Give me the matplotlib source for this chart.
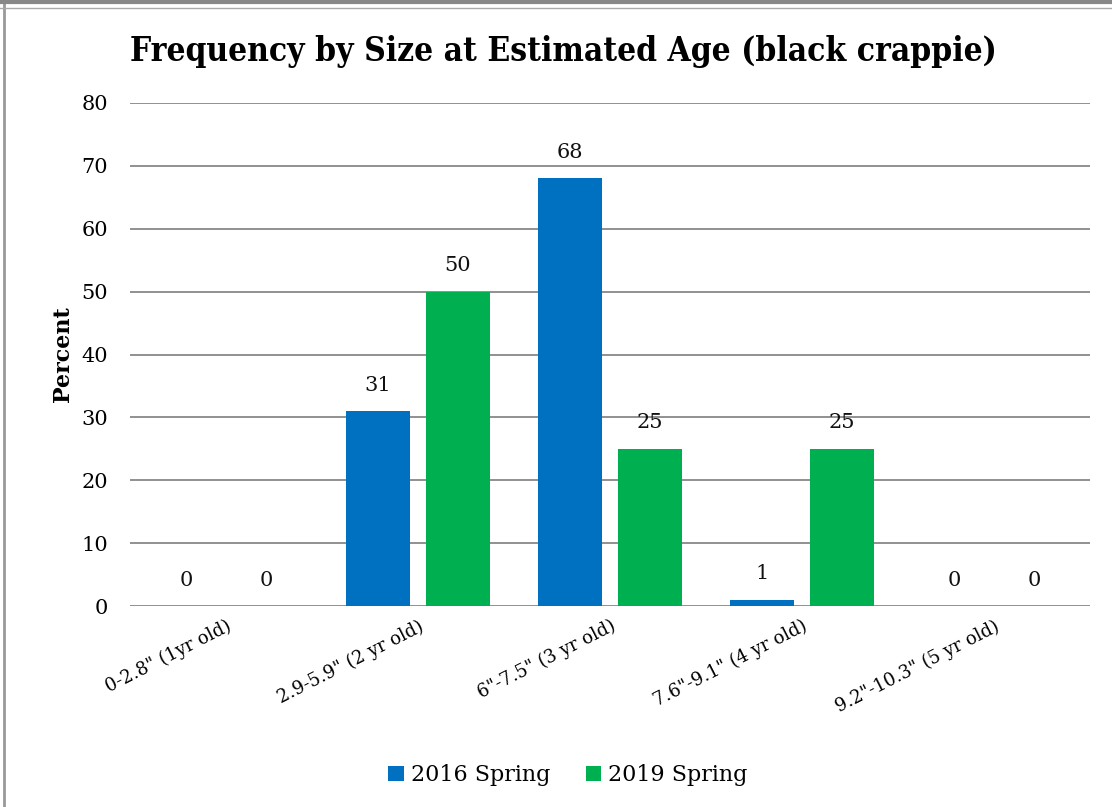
import matplotlib.pyplot as plt
from matplotlib.lines import Line2D
import numpy as np

categories = ['0-2.8" (1yr old)', '2.9-5.9" (2 yr old)', '6"-7.5" (3 yr old)',
              '7.6"-9.1" (4 yr old)', '9.2"-10.3" (5 yr old)']
spring_2016 = [0, 31, 68, 1, 0]
spring_2019 = [0, 50, 25, 25, 0]
series_names = ['2016 Spring', '2019 Spring']
colors = ['#0070C0', '#00B050']

plt.rcParams['font.family'] = ['DejaVu Serif']

fig = plt.figure(figsize=(11.12, 8.07), dpi=100)
ax = fig.add_axes([130 / 1112, 1 - 606 / 807, 960 / 1112, 503 / 807])

x = np.arange(len(categories))
w = 0.333
off = 0.208
for vals, name, c, sgn in zip([spring_2016, spring_2019], series_names, colors, [-1, 1]):
    bars = ax.bar(x + sgn * off, vals, width=w, color=c, label=name, zorder=3)
    for b, v in zip(bars, vals):
        ax.text(b.get_x() + b.get_width() / 2, v + 2.6, str(v), ha='center', va='bottom',
                fontsize=15, color='#111111')

ax.set_xlim(-0.5, len(categories) - 0.5)
ax.set_ylim(0, 80)
ax.set_yticks(range(0, 81, 10))
ax.yaxis.grid(True, color='#888888', linewidth=1.3, zorder=0)
for s in ax.spines.values():
    s.set_visible(False)
ax.tick_params(axis='y', length=0, pad=16, labelsize=15)
ax.tick_params(axis='x', length=0, pad=8, labelsize=13)
ax.set_xticks(x)
ax.set_xticklabels(categories, rotation=27, ha='right', rotation_mode='anchor')
ax.set_ylabel('Percent', fontsize=16, fontweight='bold', labelpad=5)

fig.text(563 / 1112, 1 - 52 / 807, 'Frequency by Size at Estimated Age (black crappie)',
         ha='center', va='center', fontsize=24, fontweight='bold', fontstretch='condensed')

ax.legend(loc='upper center', bbox_to_anchor=(0.456, -0.275), ncol=2, frameon=False,
          fontsize=16, handlelength=0.7, handleheight=0.7, handletextpad=0.3,
          columnspacing=1.6)

# outer frame
fig.add_artist(Line2D([4 / 1112, 4 / 1112], [0, 1], color='#999999', linewidth=2))
fig.add_artist(Line2D([0, 1], [1 - 2 / 807, 1 - 2 / 807], color='#888888', linewidth=3))
fig.add_artist(Line2D([0, 1], [1 - 8 / 807, 1 - 8 / 807], color='#aaaaaa', linewidth=1))

fig.savefig('out.png', dpi=100)
